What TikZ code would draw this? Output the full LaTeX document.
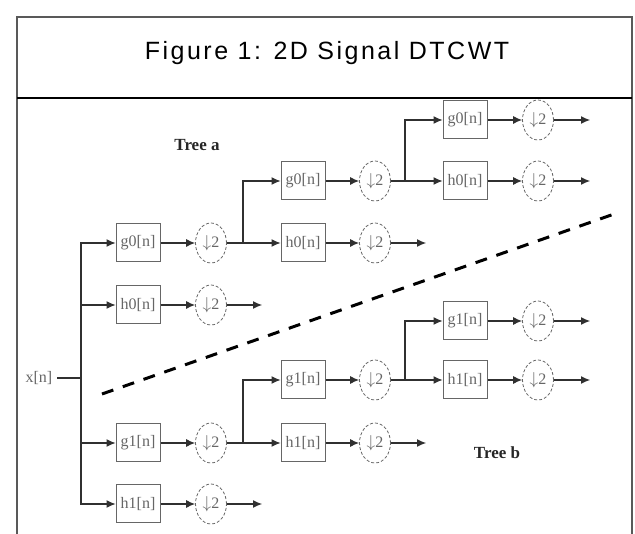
\documentclass[tikz,border=0pt]{standalone}
\usepackage{fontspec}
\setmainfont{Liberation Serif}
\newfontfamily\titlefont[LetterSpace=10]{Liberation Sans}
\usetikzlibrary{arrows.meta,shapes.geometric}
\definecolor{ln}{HTML}{303030}
\definecolor{bx}{HTML}{666666}
\begin{document}
\begin{tikzpicture}[x=1pt,y=-1pt,
  filt/.style={draw=bx, line width=1pt, minimum width=44pt, minimum height=38pt, inner sep=0pt,
    font=\fontsize{16}{16}\selectfont, text=bx},
  dnsm/.style={ellipse, draw=bx, densely dashed, line width=0.8pt, minimum width=31pt, minimum height=40pt, inner sep=0pt,
    font=\fontsize{16}{16}\selectfont, text=bx},
  wire/.style={draw=ln, line width=1.1pt},
  arr/.style={wire, -{Latex[length=9pt,width=8pt]}},
  treelbl/.style={font=\bfseries\fontsize{17}{17}\selectfont, text=black!85}
]
\useasboundingbox (0,0) rectangle (635,534);
% frame
\draw[draw=black!65, line width=1.5pt] (17,534) -- (17,17) -- (632,17) -- (632,534);
\draw[black, line width=2pt] (17,98) -- (632,98);
\node[font=\titlefont\fontsize{25}{25}\selectfont] (title) at (327,53) {Figure 1: 2D Signal DTCWT};

% input
\node[font=\fontsize{16}{16}\selectfont, text=bx] (xn) at (39,378) {x[n]};
\coordinate (t) at (81,378);
\draw[wire] (57,378) -- (t);

% Tree a, stage 1
\node[filt] (a1g) at (138,243) {g0[n]};
\node[dnsm] (a1gd) at (211,243) {$\downarrow$2};
\node[filt] (a1h) at (138,305) {h0[n]};
\node[dnsm] (a1hd) at (211,305) {$\downarrow$2};
\coordinate (a1ho) at (262,305);
\coordinate (ba1) at (243,243);
% Tree a, stage 2
\node[filt] (a2g) at (303,181) {g0[n]};
\node[dnsm] (a2gd) at (375,181) {$\downarrow$2};
\node[filt] (a2h) at (303,243) {h0[n]};
\node[dnsm] (a2hd) at (375,243) {$\downarrow$2};
\coordinate (a2ho) at (426,243);
\coordinate (ba2) at (405,181);
% Tree a, stage 3
\node[filt] (a3g) at (465,120) {g0[n]};
\node[dnsm] (a3gd) at (538,120) {$\downarrow$2};
\coordinate (a3go) at (590,120);
\node[filt] (a3h) at (465,181) {h0[n]};
\node[dnsm] (a3hd) at (538,181) {$\downarrow$2};
\coordinate (a3ho) at (590,181);

% Tree b, stage 1
\node[filt] (b1g) at (138,443) {g1[n]};
\node[dnsm] (b1gd) at (211,443) {$\downarrow$2};
\node[filt] (b1h) at (138,504) {h1[n]};
\node[dnsm] (b1hd) at (211,504) {$\downarrow$2};
\coordinate (b1ho) at (262,504);
\coordinate (bb1) at (243,443);
% Tree b, stage 2
\node[filt] (b2g) at (303,380) {g1[n]};
\node[dnsm] (b2gd) at (375,380) {$\downarrow$2};
\node[filt] (b2h) at (303,443) {h1[n]};
\node[dnsm] (b2hd) at (375,443) {$\downarrow$2};
\coordinate (b2ho) at (426,443);
\coordinate (bb2) at (405,380);
% Tree b, stage 3
\node[filt] (b3g) at (465,321) {g1[n]};
\node[dnsm] (b3gd) at (538,321) {$\downarrow$2};
\coordinate (b3go) at (590,321);
\node[filt] (b3h) at (465,380) {h1[n]};
\node[dnsm] (b3hd) at (538,380) {$\downarrow$2};
\coordinate (b3ho) at (590,380);

% trunk
\draw[arr] (t) |- (a1g);
\draw[arr] (t) |- (a1h);
\draw[arr] (t) |- (b1g);
\draw[arr] (t) |- (b1h);

% tree a wiring
\draw[arr] (a1g) -- (a1gd);
\draw[wire] (a1gd) -- (ba1);
\draw[arr] (ba1) |- (a2g);
\draw[arr] (ba1) -- (a2h);
\draw[arr] (a1h) -- (a1hd);
\draw[arr] (a1hd) -- (a1ho);
\draw[arr] (a2g) -- (a2gd);
\draw[wire] (a2gd) -- (ba2);
\draw[arr] (ba2) |- (a3g);
\draw[arr] (ba2) -- (a3h);
\draw[arr] (a2h) -- (a2hd);
\draw[arr] (a2hd) -- (a2ho);
\draw[arr] (a3g) -- (a3gd);
\draw[arr] (a3gd) -- (a3go);
\draw[arr] (a3h) -- (a3hd);
\draw[arr] (a3hd) -- (a3ho);

% tree b wiring
\draw[arr] (b1g) -- (b1gd);
\draw[wire] (b1gd) -- (bb1);
\draw[arr] (bb1) |- (b2g);
\draw[arr] (bb1) -- (b2h);
\draw[arr] (b1h) -- (b1hd);
\draw[arr] (b1hd) -- (b1ho);
\draw[arr] (b2g) -- (b2gd);
\draw[wire] (b2gd) -- (bb2);
\draw[arr] (bb2) |- (b3g);
\draw[arr] (bb2) -- (b3h);
\draw[arr] (b2h) -- (b2hd);
\draw[arr] (b2hd) -- (b2ho);
\draw[arr] (b3g) -- (b3gd);
\draw[arr] (b3gd) -- (b3go);
\draw[arr] (b3h) -- (b3hd);
\draw[arr] (b3hd) -- (b3ho);

% separator
\coordinate (s1) at (102,394);
\coordinate (s2) at (617,213);
\draw[black, line width=3pt, dash pattern=on 12pt off 10pt] (s1) -- (s2);

% tree labels
\node[treelbl] (ta) at (197,145) {Tree a};
\node[treelbl] (tb) at (497,453) {Tree b};
\end{tikzpicture}
\end{document}
